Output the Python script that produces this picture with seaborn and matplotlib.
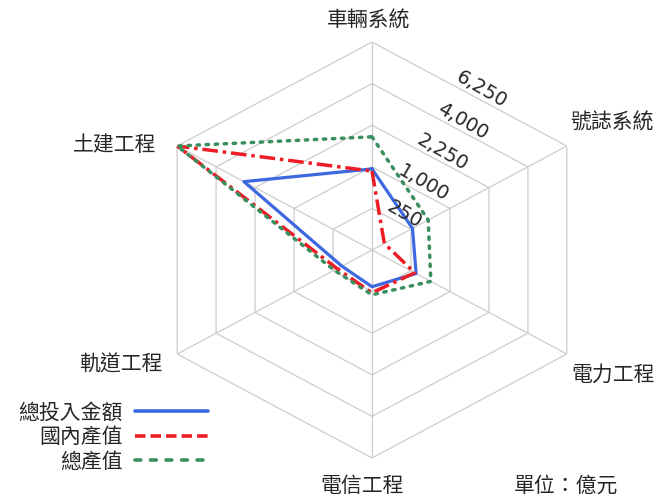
import numpy as np
import pandas as pd
import seaborn as sns
import matplotlib.pyplot as plt
from matplotlib.lines import Line2D

# data (unit: 億元)
categories = ["車輛系統", "號誌系統", "電力工程", "電信工程", "軌道工程", "土建工程"]
total_invest = [950, 270, 320, 195, 150, 2700]
domestic_output = [900, 25, 300, 265, 200, 6250]
total_output = [1850, 520, 570, 290, 235, 6250]
series_names = ["總投入金額", "國內產值", "總產值"]
ring_values = [250, 1000, 2250, 4000, 6250]
ring_labels = ["250", "1,000", "2,250", "4,000", "6,250"]
unit_label = "單位：億元"

BLUE = "#3d68e0"
RED = "#ee1c24"
GREEN = "#3a8f5e"
GRID = "#cccccc"
TEXT = "#262626"


def build_frame():
    angles = np.deg2rad(np.arange(len(categories)) * 60.0)
    closed = np.append(angles, 2 * np.pi)
    rows = []
    for name, vals in zip(series_names, [total_invest, domestic_output, total_output]):
        vals = list(vals) + [vals[0]]
        for a, v in zip(closed, vals):
            rows.append({"theta": a, "value": v, "series": name})
    return angles, closed, pd.DataFrame(rows)


def main():
    sns.set_theme(style="white")
    plt.rcParams["font.family"] = ["Noto Sans CJK TC", "DejaVu Sans"]

    angles, closed, df = build_frame()

    fig = plt.figure(figsize=(6.58, 4.97), dpi=100)
    ax = fig.add_axes([147 / 658, 39 / 497, 450 / 658, 416 / 497], projection="polar")
    ax.set_aspect("auto")
    ax.set_theta_zero_location("N")
    ax.set_theta_direction(-1)
    ax.set_rscale("function", functions=(lambda r: np.sqrt(np.clip(r, 0, None)), np.square))
    ax.set_rlim(0, ring_values[-1])
    ax.grid(False)
    ax.spines["polar"].set_visible(False)
    ax.set_xticks([])
    ax.set_yticks([])

    # hexagonal grid + spokes
    for v in ring_values:
        ax.plot(closed, [v] * len(closed), color=GRID, lw=0.9, zorder=1)
    for a in angles:
        ax.plot([a, a], [0, ring_values[-1]], color=GRID, lw=0.9, zorder=1)

    styles = {
        "總投入金額": dict(color=BLUE, lw=2.3, linestyle="-"),
        "國內產值": dict(color=RED, lw=2.5, linestyle=(0, (4.5, 1.4, 1.0, 1.4))),
        "總產值": dict(color=GREEN, lw=2.5, linestyle=(0, (0.7, 1.9)), dash_capstyle="round"),
    }
    for i, name in enumerate(series_names):
        sns.lineplot(data=df[df["series"] == name], x="theta", y="value", sort=False,
                     estimator=None, ax=ax, zorder=3 + i, **styles[name])
    ax.set_xlabel("")
    ax.set_ylabel("")

    # radial value labels along the upper-right edges
    for v, lab in zip(ring_values, ring_labels):
        ax.annotate(lab, xy=(np.deg2rad(30), 0.75 * v), xytext=(9, 3),
                    textcoords="offset points", rotation=-30, rotation_mode="anchor",
                    ha="center", va="center", fontsize=14, family="DejaVu Sans",
                    color=TEXT, zorder=6)

    # category labels
    W, H = 658, 497
    label_pos = {
        "車輛系統": (369, 21, "center"),
        "號誌系統": (570, 123, "left"),
        "電力工程": (571, 375, "left"),
        "電信工程": (362, 486, "center"),
        "軌道工程": (121, 365, "center"),
        "土建工程": (115, 145, "center"),
    }
    for cat in categories:
        x, y, ha = label_pos[cat]
        fig.text(x / W, 1 - y / H, cat, ha=ha, va="center", fontsize=15, color=TEXT)
    fig.text(566 / W, 1 - 486 / H, unit_label, ha="center", va="center", fontsize=15, color=TEXT)

    handles = [
        Line2D([], [], color=BLUE, lw=2.6),
        Line2D([], [], color=RED, lw=2.6, dashes=(2.9, 1.4)),
        Line2D([], [], color=GREEN, lw=2.6, dashes=(1.6, 2.7), dash_capstyle="round"),
    ]
    fig.legend(handles, series_names, loc="center", bbox_to_anchor=(113 / W, 1 - 437 / H),
               frameon=False, markerfirst=False, handlelength=3.5, handletextpad=0.6,
               labelspacing=0.12, fontsize=15, borderpad=0)

    fig.savefig("out.png", dpi=100)


if __name__ == "__main__":
    main()
